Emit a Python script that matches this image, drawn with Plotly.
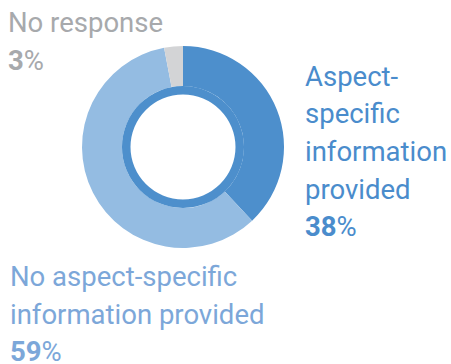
import plotly.graph_objects as go

# Share of responses by category
categories = ["Aspect-specific information provided",
              "No aspect-specific information provided",
              "No response"]
shares = [38, 59, 3]
slice_colors = ["#4d8fcc", "#94bce2", "#d3d4d6"]

W, H = 451, 364
cx, cy = 183, 147          # donut centre in px (from top-left)
r_outer, r_ring = 101, 61  # outer radius and inner accent-ring radius


def dom(r):
    return dict(x=[(cx - r) / W, (cx + r) / W],
                y=[(H - cy - r) / H, (H - cy + r) / H])


fig = go.Figure()
fig.add_trace(go.Pie(
    labels=categories, values=shares, sort=False, direction="clockwise",
    rotation=0, hole=r_ring / r_outer, domain=dom(r_outer),
    marker=dict(colors=slice_colors, line=dict(width=0)),
    textinfo="none", hoverinfo="label+percent", showlegend=False,
))
# thin accent ring around the hole
fig.add_trace(go.Pie(
    values=[1], hole=52.5 / r_ring, domain=dom(r_ring),
    marker=dict(colors=["#4d8fcc"], line=dict(width=0)),
    textinfo="none", hoverinfo="skip", showlegend=False, sort=False,
))

FONT = "Roboto"
SIZE = 27.5
LINE = 37.5  # px between baselines


def label(lines, x, y, color):
    for i, text in enumerate(lines):
        fig.add_annotation(
            text=text, x=x / W, y=1 - (y + i * LINE) / H,
            xref="paper", yref="paper",
            xanchor="left", yanchor="top", align="left", showarrow=False,
            font=dict(family=FONT, size=SIZE, color=color),
        )


label(["No response", f"<b>{shares[2]}</b>%"], 6, 4, "#a7a9ac")
label(["Aspect-", "specific", "information", "provided",
       f"<b>{shares[0]}</b>%"], 303, 58, "#4a8ccc")
label(["No aspect-specific", "information provided",
       f"<b>{shares[1]}</b>%"], 8, 258, "#7ca7d9")

fig.update_layout(
    width=W, height=H, margin=dict(l=0, r=0, t=0, b=0),
    paper_bgcolor="white", plot_bgcolor="white",
)
fig.write_html("out.html")
